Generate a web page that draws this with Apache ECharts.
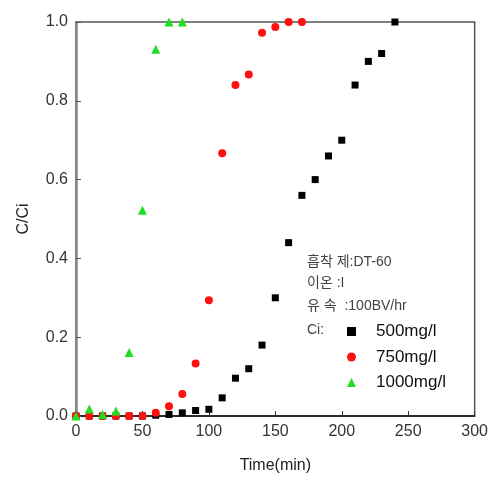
<!DOCTYPE html>
<html><head><meta charset="utf-8">
<script src="https://cdn.jsdelivr.net/npm/echarts@6/dist/echarts.min.js"></script>
<style>html,body{margin:0;padding:0;background:#fff}#c{width:491px;height:479px}</style>
</head><body><div id="c"></div>
<script>
const seriesNames = ['500mg/l', '750mg/l', '1000mg/l'];
const time500 = [0, 10, 20, 30, 40, 50, 60, 70, 80, 90, 100, 110, 120, 130, 140, 150, 160, 170, 180, 190, 200, 210, 220, 230, 240];
const c500 = [0, 0, 0, 0, 0, 0, 0.002, 0.004, 0.008, 0.014, 0.017, 0.046, 0.096, 0.12, 0.18, 0.30, 0.44, 0.56, 0.60, 0.66, 0.70, 0.84, 0.90, 0.92, 1.0];
const time750 = [0, 10, 20, 30, 40, 50, 60, 70, 80, 90, 100, 110, 120, 130, 140, 150, 160, 170];
const c750 = [0, 0, 0, 0, 0, 0, 0.008, 0.025, 0.056, 0.133, 0.294, 0.667, 0.84, 0.867, 0.973, 0.987, 1.0, 1.0];
const time1000 = [0, 10, 20, 30, 40, 50, 60, 70, 80];
const c1000 = [0, 0.018, 0.004, 0.013, 0.161, 0.522, 0.931, 1.0, 1.0];
const xTicks = [0, 50, 100, 150, 200, 250, 300];
const yTicks = [0.0, 0.2, 0.4, 0.6, 0.8, 1.0];
const notes = ['흡착 제:DT-60', '이온 :I', '유 속  :100BV/hr', 'Ci:'];

const zip = (a, b) => a.map((v, i) => [v, b[i]]);
const chart = echarts.init(document.getElementById('c'), null, {renderer: 'canvas'});
const font = 'Liberation Sans, Arial, sans-serif';
chart.setOption({
  animation: false,
  backgroundColor: '#fff',
  grid: {left: 76, right: 16, top: 22, bottom: 59, show: true, borderColor: '#555', borderWidth: 1.5},
  xAxis: {
    type: 'value', min: xTicks[0], max: xTicks[xTicks.length - 1], interval: 50,
    name: 'Time(min)', nameLocation: 'middle', nameGap: 42,
    nameTextStyle: {fontFamily: font, fontSize: 16, color: '#222'},
    axisLine: {show: true, lineStyle: {color: '#111', width: 1.5}},
    axisTick: {show: true, inside: true, length: 5, lineStyle: {color: '#333'}},
    axisLabel: {fontFamily: font, fontSize: 16, color: '#333', margin: 8},
    splitLine: {show: false}
  },
  yAxis: {
    type: 'value', min: yTicks[0], max: yTicks[yTicks.length - 1], interval: 0.2,
    name: 'C/Ci', nameLocation: 'middle', nameGap: 44, nameRotate: 90,
    nameTextStyle: {fontFamily: font, fontSize: 16, color: '#222'},
    axisLine: {show: true, lineStyle: {color: '#888', width: 2.5}},
    axisTick: {show: true, inside: true, length: 5, lineStyle: {color: '#555'}},
    axisLabel: {fontFamily: font, fontSize: 16, color: '#333', margin: 8, formatter: v => v.toFixed(1)},
    splitLine: {show: false}
  },
  legend: {
    orient: 'vertical', left: 342, top: 318, itemGap: 8.5, itemWidth: 9, itemHeight: 9,
    data: seriesNames,
    textStyle: {fontFamily: font, fontSize: 17, color: '#111', padding: [0, 0, 0, 15]}
  },
  graphic: notes.map((t, i) => ({
    type: 'text', left: 307, top: [255, 276, 299, 323][i],
    style: {text: t, fontFamily: 'Liberation Sans, Noto Sans CJK KR, sans-serif', fontSize: 14, fill: '#444'}
  })),
  series: [
    {name: seriesNames[0], type: 'scatter', symbol: 'rect', symbolSize: 7, itemStyle: {color: '#000', opacity: 1}, data: zip(time500, c500), z: 2},
    {name: seriesNames[1], type: 'scatter', symbol: 'circle', symbolSize: 8, itemStyle: {color: '#ff1010', opacity: 1}, data: zip(time750, c750), z: 3},
    {name: seriesNames[2], type: 'scatter', symbol: 'triangle', symbolSize: 9, itemStyle: {color: '#22dd22', opacity: 1}, data: zip(time1000, c1000), z: 4}
  ]
});
</script></body></html>
